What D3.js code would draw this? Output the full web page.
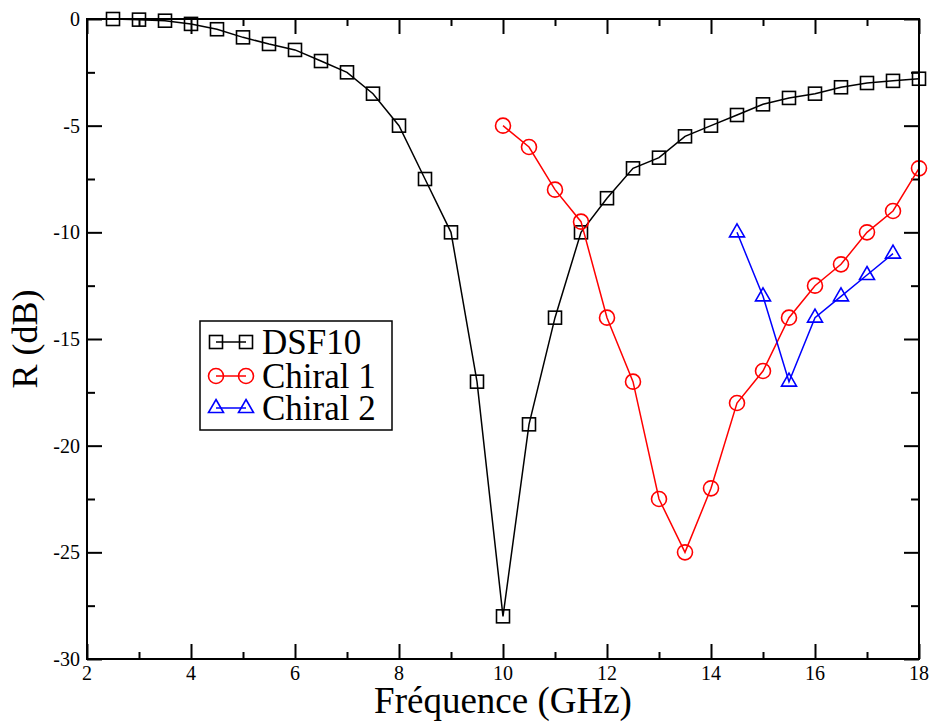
<!DOCTYPE html>
<html>
<head>
<meta charset="utf-8">
<script src="https://cdn.jsdelivr.net/npm/d3@7"></script>
<style>
  html, body { margin: 0; padding: 0; background: #fff; }
  svg { display: block; }
</style>
</head>
<body>
<svg id="chart" width="933" height="722"></svg>
<script>
// Frequency axis (GHz) and reflection loss R (dB)
const dsfFreq = [2.5, 3, 3.5, 4, 4.5, 5, 5.5, 6, 6.5, 7, 7.5, 8, 8.5, 9, 9.5, 10, 10.5, 11, 11.5, 12, 12.5, 13, 13.5, 14, 14.5, 15, 15.5, 16, 16.5, 17, 17.5, 18];
const dsfR    = [0, -0.03, -0.08, -0.23, -0.48, -0.86, -1.17, -1.45, -1.97, -2.5, -3.5, -5, -7.5, -10, -17, -28, -19, -14, -10, -8.4, -7, -6.5, -5.5, -5, -4.5, -4, -3.7, -3.5, -3.2, -3, -2.9, -2.8];

const chiral1Freq = [10, 10.5, 11, 11.5, 12, 12.5, 13, 13.5, 14, 14.5, 15, 15.5, 16, 16.5, 17, 17.5, 18];
const chiral1R    = [-5, -6, -8, -9.5, -14, -17, -22.5, -25, -22, -18, -16.5, -14, -12.5, -11.5, -10, -9, -7];

const chiral2Freq = [14.5, 15, 15.5, 16, 16.5, 17, 17.5];
const chiral2R    = [-10, -13, -17, -14, -13, -12, -11];

const xMajorTicks = [2, 4, 6, 8, 10, 12, 14, 16, 18];
const xMinorTicks = [3, 5, 7, 9, 11, 13, 15, 17];
const yMajorTicks = [0, -5, -10, -15, -20, -25, -30];
const yMinorTicks = [-2.5, -7.5, -12.5, -17.5, -22.5, -27.5];

const seriesNames = ["DSF10", "Chiral 1", "Chiral 2"];
const seriesColors = ["#000000", "#ff0000", "#0000ff"];
const seriesShapes = ["square", "circle", "triangle"];

const serif = "'Liberation Serif', 'DejaVu Serif', serif";

const svg = d3.select("#chart").attr("font-family", serif);
const plotLeft = 87, plotRight = 919, plotTop = 19, plotBottom = 659;

const x = d3.scaleLinear().domain([2, 18]).range([plotLeft, plotRight]);
const y = d3.scaleLinear().domain([-30, 0]).range([plotBottom, plotTop]);

// Inward ticks on all four sides
function styleAxis(g) {
  g.select(".domain").remove();
  g.selectAll(".tick line").attr("stroke", "#000").attr("stroke-width", 2);
}
function addTicks(axisFn, scale, values, size, tx, ty) {
  svg.append("g").attr("transform", `translate(${tx},${ty})`)
    .call(axisFn(scale).tickValues(values).tickSize(-size).tickFormat(""))
    .call(styleAxis);
}
addTicks(d3.axisBottom, x, xMajorTicks, 15, 0, plotBottom);
addTicks(d3.axisBottom, x, xMinorTicks, 7, 0, plotBottom);
addTicks(d3.axisTop, x, xMajorTicks, 15, 0, plotTop);
addTicks(d3.axisTop, x, xMinorTicks, 7, 0, plotTop);
addTicks(d3.axisLeft, y, yMajorTicks, 15, plotLeft, 0);
addTicks(d3.axisLeft, y, yMinorTicks, 8, plotLeft, 0);
addTicks(d3.axisRight, y, yMajorTicks, 15, plotRight, 0);
addTicks(d3.axisRight, y, yMinorTicks, 8, plotRight, 0);

// Tick labels
svg.append("g").selectAll("text").data(xMajorTicks).join("text")
  .attr("x", d => x(d)).attr("y", plotBottom + 21)
  .attr("text-anchor", "middle").attr("font-size", 20)
  .attr("font-family", serif)
  .text(d => d);
svg.append("g").selectAll("text").data(yMajorTicks).join("text")
  .attr("x", plotLeft - 7).attr("y", d => y(d) + 7)
  .attr("text-anchor", "end").attr("font-size", 20)
  .attr("font-family", serif)
  .text(d => d);

// Axis titles
svg.append("text")
  .attr("x", (plotLeft + plotRight) / 2).attr("y", 713)
  .attr("text-anchor", "middle").attr("font-size", 37)
  .attr("font-family", serif)
  .text("Fréquence (GHz)");
svg.append("text")
  .attr("transform", `translate(37,${(plotTop + plotBottom) / 2}) rotate(-90)`)
  .attr("text-anchor", "middle").attr("font-size", 36)
  .attr("font-family", serif)
  .text("R (dB)");

// Marker shapes
function drawMarker(g, shape, cx, cy, color) {
  if (shape === "square") {
    g.append("rect").attr("x", cx - 6.5).attr("y", cy - 6.5)
      .attr("width", 13).attr("height", 13)
      .attr("fill", "none").attr("stroke", color).attr("stroke-width", 1.6);
  } else if (shape === "circle") {
    g.append("circle").attr("cx", cx).attr("cy", cy).attr("r", 7.5)
      .attr("fill", "none").attr("stroke", color).attr("stroke-width", 1.6);
  } else {
    g.append("path")
      .attr("d", `M${cx},${cy - 8.5}L${cx + 7.5},${cy + 4.5}L${cx - 7.5},${cy + 4.5}Z`)
      .attr("fill", "none").attr("stroke", color).attr("stroke-width", 1.6);
  }
}

const seriesData = [
  dsfFreq.map((f, i) => [f, dsfR[i]]),
  chiral1Freq.map((f, i) => [f, chiral1R[i]]),
  chiral2Freq.map((f, i) => [f, chiral2R[i]])
];

const line = d3.line().x(d => x(d[0])).y(d => y(d[1]));

seriesData.forEach((data, k) => {
  const g = svg.append("g");
  g.append("path").attr("d", line(data))
    .attr("fill", "none").attr("stroke", seriesColors[k]).attr("stroke-width", 1.5);
  data.forEach(d => drawMarker(g, seriesShapes[k], x(d[0]), y(d[1]), seriesColors[k]));
});

// Plot frame
svg.append("rect")
  .attr("x", plotLeft).attr("y", plotTop)
  .attr("width", plotRight - plotLeft).attr("height", plotBottom - plotTop)
  .attr("fill", "none").attr("stroke", "#000").attr("stroke-width", 2);

// Legend
const legend = svg.append("g");
legend.append("rect")
  .attr("x", 200).attr("y", 321).attr("width", 192).attr("height", 109)
  .attr("fill", "#fff").attr("stroke", "#000").attr("stroke-width", 1.5);
const rowY = [342, 376, 408];
seriesNames.forEach((name, k) => {
  const ly = rowY[k];
  legend.append("line")
    .attr("x1", 216).attr("x2", 246).attr("y1", ly).attr("y2", ly)
    .attr("stroke", seriesColors[k]).attr("stroke-width", 1.5);
  drawMarker(legend, seriesShapes[k], 216, ly, seriesColors[k]);
  drawMarker(legend, seriesShapes[k], 246, ly, seriesColors[k]);
  legend.append("text")
    .attr("x", 262).attr("y", ly + 12)
    .attr("font-size", 35)
    .attr("font-family", serif)
    .text(name);
});
</script>
</body>
</html>
